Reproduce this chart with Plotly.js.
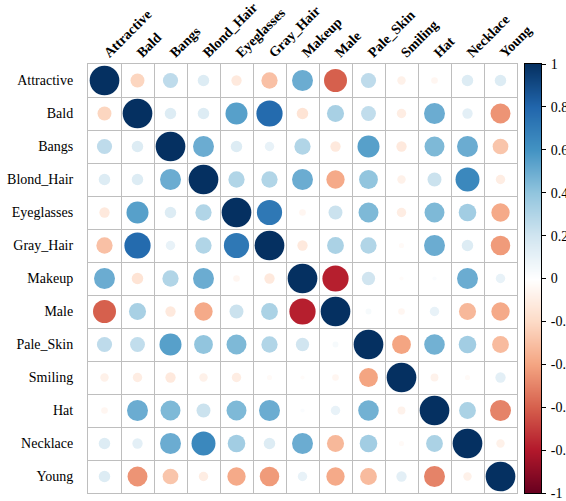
<!DOCTYPE html>
<html>
<head>
<meta charset="utf-8">
<script src="https://cdn.plot.ly/plotly-3.0.1.min.js"></script>
<style>html,body{margin:0;padding:0;background:#fff;}#chart{width:566px;height:501px;}</style>
</head>
<body>
<div id="chart"></div>
<script>
var labels = ["Attractive","Bald","Bangs","Blond_Hair","Eyeglasses","Gray_Hair","Makeup","Male","Pale_Skin","Smiling","Hat","Necklace","Young"];

var rowAttractive = [1, -0.22, 0.26, 0.15, -0.12, -0.3, 0.5, -0.6, 0.26, -0.08, -0.05, 0.15, 0.15];
var rowBald       = [-0.22, 1, 0.15, 0.15, 0.55, 0.78, -0.15, 0.33, 0.25, -0.1, 0.5, 0.12, -0.45];
var rowBangs      = [0.26, 0.15, 1, 0.5, 0.15, 0.1, 0.3, -0.12, 0.55, -0.12, 0.45, 0.5, -0.28];
var rowBlondHair  = [0.15, 0.15, 0.5, 1, 0.3, 0.3, 0.5, -0.38, 0.4, -0.08, 0.22, 0.65, -0.1];
var rowEyeglasses = [-0.12, 0.55, 0.15, 0.3, 1, 0.72, -0.05, 0.22, 0.45, -0.1, 0.45, 0.35, -0.38];
var rowGrayHair   = [-0.3, 0.78, 0.1, 0.3, 0.72, 1, -0.12, 0.32, 0.3, -0.03, 0.5, 0.15, -0.43];
var rowMakeup     = [0.5, -0.15, 0.3, 0.5, -0.05, -0.12, 1, -0.78, 0.2, -0.02, 0.02, 0.5, 0.1];
var rowMale       = [-0.6, 0.33, -0.12, -0.38, 0.22, 0.32, -0.78, 1, 0.04, -0.05, 0.1, -0.33, -0.38];
var rowPaleSkin   = [0.26, 0.25, 0.55, 0.4, 0.45, 0.3, 0.2, 0.04, 1, -0.4, 0.48, 0.35, -0.32];
var rowSmiling    = [-0.08, -0.1, -0.12, -0.08, -0.1, -0.03, -0.02, -0.05, -0.4, 1, -0.07, -0.03, 0.12];
var rowHat        = [-0.05, 0.5, 0.45, 0.22, 0.45, 0.5, 0.02, 0.1, 0.48, -0.07, 1, 0.32, -0.5];
var rowNecklace   = [0.15, 0.12, 0.5, 0.65, 0.35, 0.15, 0.5, -0.33, 0.35, -0.03, 0.32, 1, -0.08];
var rowYoung      = [0.15, -0.45, -0.28, -0.1, -0.38, -0.43, 0.1, -0.38, -0.32, 0.12, -0.5, -0.08, 1];

var colorbarTicks = [-1, -0.8, -0.6, -0.4, -0.2, 0, 0.2, 0.4, 0.6, 0.8, 1];
var colorbarTickText = ["-1", "-0.8", "-0.6", "-0.4", "-0.2", "0", "0.2", "0.4", "0.6", "0.8", "1"];

var rows = [rowAttractive, rowBald, rowBangs, rowBlondHair, rowEyeglasses, rowGrayHair, rowMakeup, rowMale, rowPaleSkin, rowSmiling, rowHat, rowNecklace, rowYoung];

var rdbu = ["#67001F", "#B2182B", "#D6604D", "#F4A582", "#FDDBC7", "#FFFFFF", "#D1E5F0", "#92C5DE", "#4393C3", "#2166AC", "#053061"];
var colorscale = rdbu.map(function (c, i) { return [i / (rdbu.length - 1), c]; });

var idx = labels.map(function (_, i) { return i; });

var xs = [], ys = [], vals = [], sizes = [];
rows.forEach(function (row, i) {
  row.forEach(function (v, j) {
    xs.push(j);
    ys.push(i);
    vals.push(v);
    sizes.push(Math.abs(v));
  });
});

var maxRadius = 14.85;
var font = "Liberation Serif, Times New Roman, serif";
var gridColor = "#BEBEBE";

var W = 566, H = 501, ml = 88, mr = 25, mt = 64, mb = 8;
var plotW = W - ml - mr;
var gridRight = 517, barLeft = 525;

var circles = {
  type: "scatter",
  mode: "markers",
  x: xs,
  y: ys,
  xaxis: "x",
  yaxis: "y",
  hoverinfo: "skip",
  cliponaxis: false,
  marker: {
    size: sizes,
    sizemode: "area",
    sizeref: 1 / (2 * maxRadius * maxRadius),
    color: vals,
    cmin: -1,
    cmax: 1,
    colorscale: colorscale,
    line: {width: 0},
    opacity: 1,
    showscale: false
  }
};

var legendStrip = {
  type: "heatmap",
  x: [0, 1],
  y: colorbarTicks,
  z: colorbarTicks.map(function (v) { return [v, v]; }),
  zmin: -1,
  zmax: 1,
  zsmooth: "best",
  colorscale: colorscale,
  showscale: false,
  hoverinfo: "skip",
  xaxis: "x2",
  yaxis: "y2"
};

var layout = {
  width: W,
  height: H,
  margin: {l: ml, r: mr, t: mt, b: mb, pad: 0},
  paper_bgcolor: "#fff",
  plot_bgcolor: "rgba(0,0,0,0)",
  showlegend: false,
  xaxis: {
    type: "linear",
    domain: [0, (gridRight - ml) / plotW],
    range: [-0.5, 12.5],
    side: "top",
    tickmode: "array",
    tickvals: idx,
    ticktext: labels,
    tickangle: -45,
    tickfont: {family: font, size: 14, color: "#000", weight: "bold"},
    ticks: "",
    ticklabelstandoff: -3,
    showgrid: false,
    zeroline: false,
    showline: true,
    mirror: true,
    linecolor: gridColor,
    linewidth: 1,
    minor: {tickmode: "linear", tick0: -0.5, dtick: 1, showgrid: true, gridcolor: gridColor, gridwidth: 1, ticks: ""},
    fixedrange: true,
    automargin: false
  },
  yaxis: {
    type: "linear",
    range: [12.5, -0.5],
    tickmode: "array",
    tickvals: idx,
    ticktext: labels,
    tickfont: {family: font, size: 14, color: "#000"},
    ticks: "",
    ticklabelstandoff: 11,
    showgrid: false,
    zeroline: false,
    showline: true,
    mirror: true,
    linecolor: gridColor,
    linewidth: 1,
    minor: {tickmode: "linear", tick0: -0.5, dtick: 1, showgrid: true, gridcolor: gridColor, gridwidth: 1, ticks: ""},
    fixedrange: true,
    automargin: false
  },
  xaxis2: {
    domain: [(barLeft - ml) / plotW, 1],
    anchor: "y2",
    range: [-0.5, 1.5],
    showticklabels: false,
    ticks: "",
    showgrid: false,
    zeroline: false,
    showline: true,
    mirror: true,
    linecolor: "#000",
    linewidth: 1,
    fixedrange: true,
    automargin: false
  },
  yaxis2: {
    domain: [0, 1],
    anchor: "x2",
    side: "right",
    range: [-1, 1],
    tickmode: "array",
    tickvals: colorbarTicks,
    ticktext: colorbarTickText,
    ticks: "outside",
    ticklen: 4,
    tickwidth: 1,
    tickcolor: "#000",
    tickfont: {family: font, size: 14, color: "#000"},
    ticklabelstandoff: 2,
    showgrid: false,
    zeroline: false,
    showline: true,
    mirror: true,
    linecolor: "#000",
    linewidth: 1,
    fixedrange: true,
    automargin: false
  }
};

Plotly.newPlot("chart", [legendStrip, circles], layout, {displayModeBar: false, staticPlot: true});
</script>
</body>
</html>
